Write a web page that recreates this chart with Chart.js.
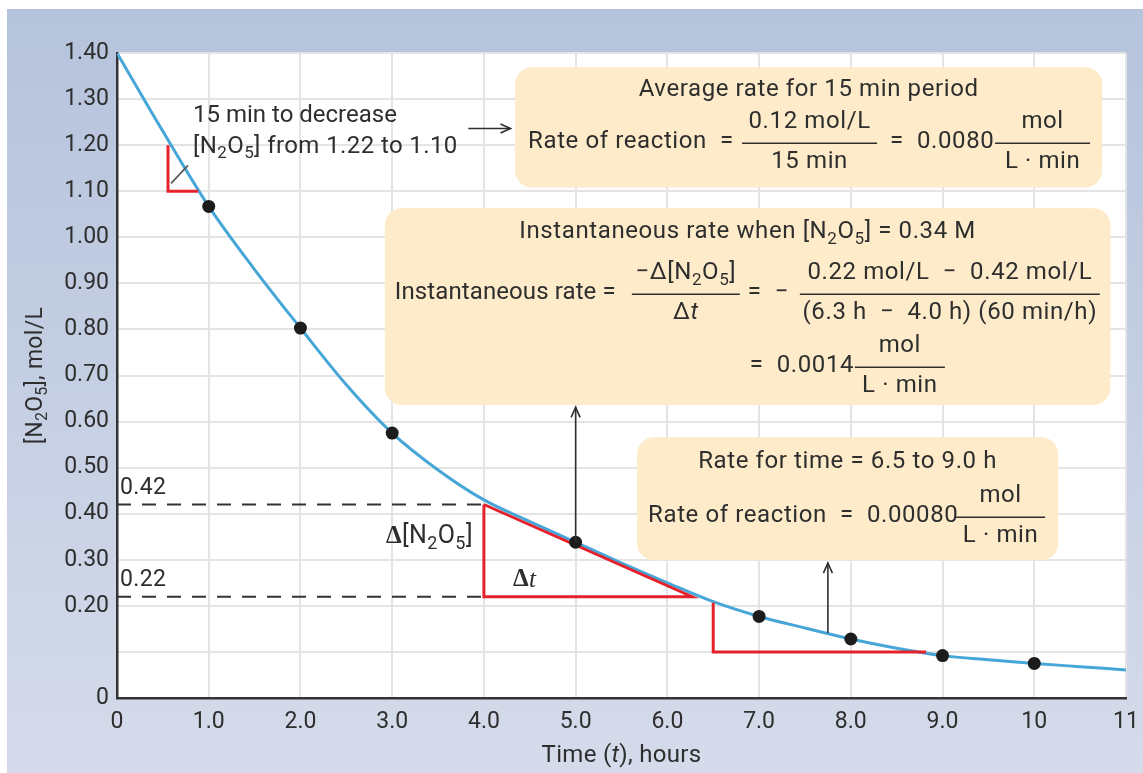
<!DOCTYPE html>
<html lang="en">
<head>
<meta charset="UTF-8">
<title>Decomposition of N2O5</title>
<script src="https://cdn.jsdelivr.net/npm/chart.js"></script>
<style>
  * { margin: 0; padding: 0; box-sizing: border-box; }
  html, body { width: 1143px; height: 773px; overflow: hidden; background: #fff; }
  #rateChart { display: block; }
</style>
</head>
<body>
<canvas id="rateChart" width="1143" height="773"></canvas>
<script>
// values (time in hours, concentration in mol/L)
const curveTimes = [0, 0.5, 1, 1.5, 2, 2.5, 3, 3.5, 4, 4.5, 5, 5.5, 6, 6.5, 7, 7.5, 8, 8.5, 9, 9.5, 10, 10.5, 11];
const curveConc  = [1.40, 1.23, 1.067, 0.93, 0.803, 0.68, 0.575, 0.495, 0.43, 0.383, 0.338, 0.293, 0.25, 0.209, 0.177, 0.152, 0.128, 0.108, 0.092, 0.083, 0.075, 0.068, 0.061];

const sampleTimes = [1, 2, 3, 5, 7, 8, 9, 10];
const sampleConc  = [1.067, 0.803, 0.575, 0.338, 0.177, 0.128, 0.092, 0.075];

// red rate triangles
const avgTriTimes  = [0.556, 0.556, 0.885];
const avgTriConc   = [1.20, 1.10, 1.10];
const tanTriTimes  = [4.0, 4.0, 6.27, 4.0];
const tanTriConc   = [0.42, 0.22, 0.22, 0.42];
const lateTriTimes = [6.5, 6.5, 8.82];
const lateTriConc  = [0.207, 0.10, 0.10];

// dashed guides to the y axis
const guideTimes = [0, 4.0];
const guideHigh  = [0.42, 0.42];
const guideLow   = [0.22, 0.22];

const xTickLabels = ['0', '1.0', '2.0', '3.0', '4.0', '5.0', '6.0', '7.0', '8.0', '9.0', '10', '11'];
const yTickLabels = ['0', '', '0.20', '0.30', '0.40', '0.50', '0.60', '0.70', '0.80', '0.90', '1.00', '1.10', '1.20', '1.30', '1.40'];

const SANS = "Roboto, 'Noto Sans', sans-serif";
const SERIF = "'Liberation Serif', 'DejaVu Serif', serif";
const INK = '#2e2e2e';
const RED = '#e5222c';
const BLUE = '#46a6d8';
const BOX = '#fdebc9';

const zip = (xs, ys) => xs.map((x, i) => ({ x: x, y: ys[i] }));
const N2O5 = ['[N', { s: '2' }, 'O', { s: '5' }, ']'];

// ---- rich text helpers (subscripts, italics) ----
function segFont(seg, size) {
  if (typeof seg === 'string') return size + 'px ' + SANS;
  if ('s' in seg) return Math.round(size * 0.7) + 'px ' + SANS;
  if ('i' in seg) return 'italic ' + size + 'px ' + SANS;
  if ('g' in seg) return 'bold ' + size + 'px ' + SERIF;
  return 'italic ' + size + 'px ' + SERIF;
}
function segText(seg) {
  if (typeof seg === 'string') return seg;
  return seg.s || seg.i || seg.g || seg.gi;
}
function runWidth(ctx, segs, size) {
  let w = 0;
  for (const s of segs) { ctx.font = segFont(s, size); w += ctx.measureText(segText(s)).width; }
  return w;
}
function drawRun(ctx, segs, x, y, size, align) {
  if (typeof segs === 'string') segs = [segs];
  const w = runWidth(ctx, segs, size);
  let cx = align === 'center' ? x - w / 2 : align === 'right' ? x - w : x;
  ctx.textAlign = 'left';
  ctx.textBaseline = 'middle';
  for (const s of segs) {
    ctx.font = segFont(s, size);
    const dy = (typeof s === 'object' && 's' in s) ? size * 0.3 : 0;
    ctx.fillText(segText(s), cx, y + dy);
    cx += ctx.measureText(segText(s)).width;
  }
  return w;
}
// one equation line: items are {at, text} runs or {at, w, num, den} fractions,
// `at` measured from the left edge of the box
function drawEq(ctx, items, left, y, size) {
  for (const it of items) {
    const x = left + it.at;
    if (it.num) {
      const num = typeof it.num === 'string' ? [it.num] : it.num;
      const den = typeof it.den === 'string' ? [it.den] : it.den;
      ctx.lineWidth = 1.6;
      ctx.strokeStyle = INK;
      ctx.beginPath(); ctx.moveTo(x, y + 1); ctx.lineTo(x + it.w, y + 1); ctx.stroke();
      drawRun(ctx, num, x + it.w / 2, y - 20, size, 'center');
      drawRun(ctx, den, x + it.w / 2, y + 20, size, 'center');
    } else {
      drawRun(ctx, it.text, x, y, size, 'left');
    }
  }
}
function drawArrow(ctx, x1, y1, x2, y2) {
  ctx.beginPath(); ctx.moveTo(x1, y1); ctx.lineTo(x2, y2); ctx.stroke();
  const a = Math.atan2(y2 - y1, x2 - x1), L = 11, w = 0.42;
  ctx.beginPath();
  ctx.moveTo(x2 - L * Math.cos(a - w), y2 - L * Math.sin(a - w));
  ctx.lineTo(x2, y2);
  ctx.lineTo(x2 - L * Math.cos(a + w), y2 - L * Math.sin(a + w));
  ctx.stroke();
}
function roundRect(ctx, l, t, r, b, rad) {
  ctx.beginPath();
  ctx.moveTo(l + rad, t);
  ctx.arcTo(r, t, r, b, rad);
  ctx.arcTo(r, b, l, b, rad);
  ctx.arcTo(l, b, l, t, rad);
  ctx.arcTo(l, t, r, t, rad);
  ctx.closePath();
  ctx.fill();
}

// annotation boxes, corners in data units
const boxes = [
  { x0: 4.34, x1: 10.74, y0: 1.369, y1: 1.108 },
  { x0: 2.92, x1: 10.83, y0: 1.063, y1: 0.636 },
  { x0: 5.67, x1: 10.26, y0: 0.566, y1: 0.299 }
];

const decor = {
  id: 'decor',
  beforeDraw(chart) {
    const ctx = chart.ctx, a = chart.chartArea;
    ctx.save();
    ctx.fillStyle = '#fff';
    ctx.fillRect(0, 0, chart.width, chart.height);
    const g = ctx.createLinearGradient(0, 9, 0, chart.height);
    g.addColorStop(0, '#b5c3dc');
    g.addColorStop(1, '#d5dbea');
    ctx.fillStyle = g;
    ctx.fillRect(7, 9, chart.width - 7, chart.height - 9);
    ctx.fillStyle = '#fff';
    ctx.fillRect(a.left, a.top - 1, a.right - a.left, a.bottom - a.top + 1);
    ctx.restore();
  },
  beforeDatasetsDraw(chart) {
    const ctx = chart.ctx, sx = chart.scales.x, sy = chart.scales.y;
    ctx.save();
    ctx.fillStyle = BOX;
    for (const b of boxes) {
      roundRect(ctx, sx.getPixelForValue(b.x0), sy.getPixelForValue(b.y0),
        sx.getPixelForValue(b.x1), sy.getPixelForValue(b.y1), 17);
    }
    ctx.restore();
  },
  afterDatasetsDraw(chart) {
    const ctx = chart.ctx, sx = chart.scales.x, sy = chart.scales.y;
    const X = v => sx.getPixelForValue(v), Y = v => sy.getPixelForValue(v);
    const a = chart.chartArea;
    ctx.save();
    ctx.fillStyle = INK;
    ctx.strokeStyle = INK;
    ctx.lineWidth = 1.6;

    // arrows
    drawArrow(ctx, X(3.83), Y(1.236), X(4.29), Y(1.236));
    drawArrow(ctx, X(5.0), Y(0.338), X(5.0), Y(0.631));
    drawArrow(ctx, X(7.75), Y(0.141), X(7.75), Y(0.293));
    // leader to the first triangle
    ctx.strokeStyle = '#555';
    ctx.beginPath(); ctx.moveTo(X(0.774), Y(1.156)); ctx.lineTo(X(0.589), Y(1.117)); ctx.stroke();
    ctx.strokeStyle = INK;

    const F = 24;
    // callout next to the first triangle
    ctx.letterSpacing = '0px';
    drawRun(ctx, '15 min to decrease', 193, 116, F, 'left');
    ctx.letterSpacing = '0.4px';
    drawRun(ctx, N2O5.concat([' from 1.22 to 1.10']), 193, 147, F, 'left');

    // guide labels
    drawRun(ctx, '0.42', a.left + 3, Y(0.42) - 16, 23, 'left');
    drawRun(ctx, '0.22', a.left + 3, Y(0.22) - 16, 23, 'left');
    drawRun(ctx, [{ g: '\u0394' }].concat(N2O5), X(4.0) - 11, 537, 25, 'right');
    drawRun(ctx, [{ g: '\u0394' }, { gi: 't' }], 513, 580, 25, 'left');

    ctx.letterSpacing = '0.6px';
    const r = boxes.map(b => ({ l: X(b.x0), t: Y(b.y0), r: X(b.x1), b: Y(b.y1) }));

    // box 1
    let b = r[0];
    drawRun(ctx, 'Average rate for 15 min period', (b.l + b.r) / 2, b.t + 23, F, 'center');
    drawEq(ctx, [
      { at: 13, text: 'Rate of reaction  =' },
      { at: 227, w: 135, num: '0.12 mol/L', den: '15 min' },
      { at: 375, text: '=  0.0080' },
      { at: 480, w: 95, num: 'mol', den: 'L \u00b7 min' }
    ], b.l, b.t + 75, F);

    // box 2
    b = r[1];
    drawRun(ctx, ['Instantaneous rate when '].concat(N2O5, [' = 0.34 M']), (b.l + b.r) / 2, b.t + 24, F, 'center');
    ctx.letterSpacing = '0.1px';
    drawEq(ctx, [{ at: 10, text: 'Instantaneous rate =' }], b.l, b.t + 85, F);
    ctx.letterSpacing = '0.6px';
    drawEq(ctx, [
      { at: 247, w: 108, num: ['\u2212\u0394'].concat(N2O5), den: ['\u0394', { i: 't' }] },
      { at: 363, text: '=  \u2212' },
      { at: 415, w: 300, num: '0.22 mol/L  \u2212  0.42 mol/L', den: '(6.3 h  \u2212  4.0 h) (60 min/h)' }
    ], b.l, b.t + 85, F);
    drawEq(ctx, [
      { at: 365, text: '=  0.0014' },
      { at: 470, w: 90, num: 'mol', den: 'L \u00b7 min' }
    ], b.l, b.t + 158, F);

    // box 3
    b = r[2];
    drawRun(ctx, 'Rate for time = 6.5 to 9.0 h', (b.l + b.r) / 2, b.t + 25, F, 'center');
    drawEq(ctx, [
      { at: 11, text: 'Rate of reaction  =  0.00080' },
      { at: 319, w: 89, num: 'mol', den: 'L \u00b7 min' }
    ], b.l, b.t + 79, F);

    // axis titles
    ctx.letterSpacing = '0.3px';
    drawRun(ctx, ['Time (', { i: 't' }, '), hours'], (a.left + a.right) / 2, 756, F, 'center');
    ctx.translate(36, (a.top + a.bottom) / 2);
    ctx.rotate(-Math.PI / 2);
    drawRun(ctx, N2O5.concat([', mol/L']), 0, 0, 23, 'center');
    ctx.restore();
  }
};

function redLine(xs, ys) {
  return { data: zip(xs, ys), showLine: true, borderColor: RED, borderWidth: 3, pointRadius: 0,
    tension: 0, fill: false, borderJoinStyle: 'miter', order: 1 };
}
function guideLine(ys) {
  return { data: zip(guideTimes, ys), showLine: true, borderColor: '#333', borderWidth: 2,
    borderDash: [14, 11], pointRadius: 0, fill: false, order: 3 };
}

new Chart(document.getElementById('rateChart').getContext('2d'), {
  type: 'scatter',
  data: {
    datasets: [
      { label: 'samples', data: zip(sampleTimes, sampleConc), pointRadius: 6.5,
        pointBackgroundColor: '#1c1c1c', pointBorderWidth: 0, order: 0 },
      redLine(avgTriTimes, avgTriConc),
      redLine(tanTriTimes, tanTriConc),
      redLine(lateTriTimes, lateTriConc),
      { label: 'curve', data: zip(curveTimes, curveConc), showLine: true, borderColor: BLUE,
        borderWidth: 3, pointRadius: 0, cubicInterpolationMode: 'monotone', fill: false, order: 2 },
      guideLine(guideHigh),
      guideLine(guideLow)
    ]
  },
  options: {
    responsive: false,
    devicePixelRatio: 1,
    animation: false,
    layout: { padding: { left: 0, top: 53, right: 17, bottom: 0 } },
    plugins: { legend: { display: false }, tooltip: { enabled: false } },
    scales: {
      x: {
        type: 'linear', min: 0, max: 11,
        afterFit(scale) { scale.height = 75; scale.paddingLeft = 0; scale.paddingRight = 0; },
        grid: { color: '#e4e4e4', lineWidth: 2, drawTicks: false },
        border: { color: '#333', width: 2.5 },
        ticks: { stepSize: 1, padding: 10, color: INK, font: { family: SANS, size: 23 },
          maxRotation: 0, autoSkip: false,
          callback: v => xTickLabels[Math.round(v)] }
      },
      y: {
        type: 'linear', min: 0, max: 1.4,
        afterFit(scale) { scale.width = 117; scale.paddingTop = 0; scale.paddingBottom = 0; },
        grid: { color: '#e4e4e4', lineWidth: 2, drawTicks: false },
        border: { color: '#333', width: 2.5 },
        ticks: { stepSize: 0.1, padding: 8, color: INK, font: { family: SANS, size: 23 },
          autoSkip: false,
          callback: v => yTickLabels[Math.round(v * 10)] }
      }
    }
  },
  plugins: [decor]
});
</script>
</body>
</html>
